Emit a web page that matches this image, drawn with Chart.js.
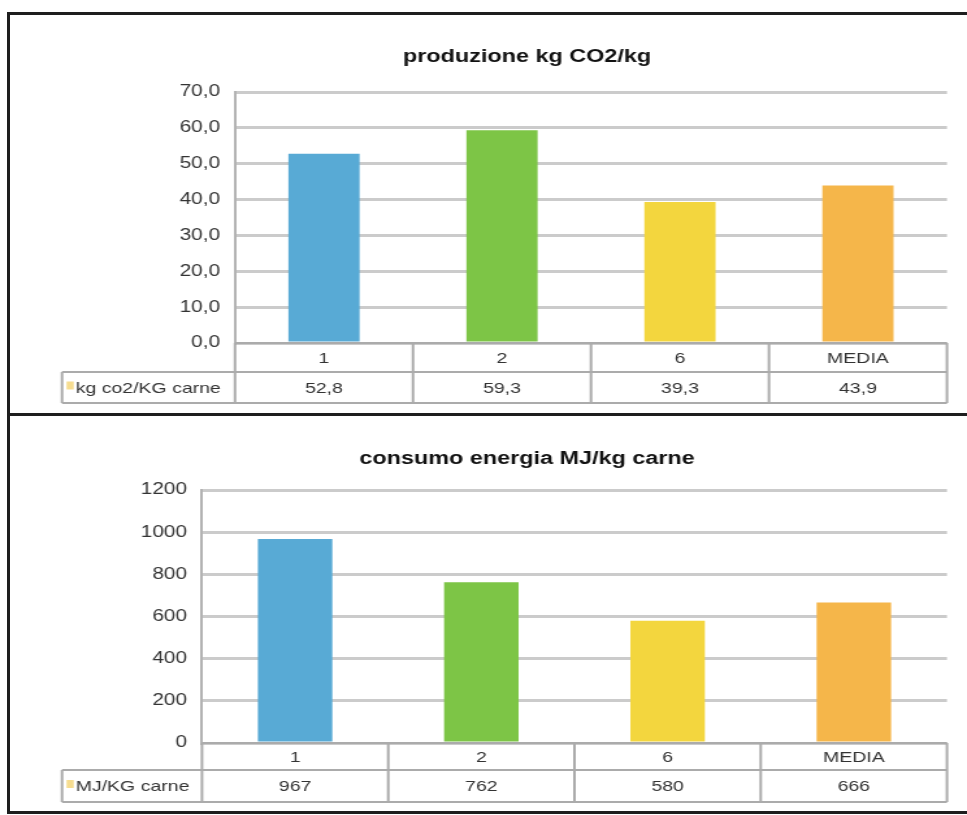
<!DOCTYPE html>
<html>
<head>
<meta charset="utf-8">
<script src="https://cdn.jsdelivr.net/npm/chart.js@4/dist/chart.umd.min.js"></script>
<style>
  html, body { margin: 0; padding: 0; background: #fff; }
  #page { position: relative; width: 967px; height: 815px; overflow: hidden; background: #fff; }
  #page canvas { position: absolute; left: 0; transform-origin: 0 0; transform: scaleX(1.2997); }
  .frame { position: absolute; left: 7px; top: 12px; width: 1000px; height: 796px; border: 3px solid #1e1e1e; pointer-events: none; }
  .divider { position: absolute; left: 7px; top: 413px; width: 980px; height: 3px; background: #1e1e1e; pointer-events: none; }
</style>
</head>
<body>
<div id="page">
  <canvas id="co2Chart" width="744" height="413" style="top:0px"></canvas>
  <canvas id="energyChart" width="744" height="396" style="top:416px"></canvas>
  <div class="frame"></div>
  <div class="divider"></div>
</div>
<script>
// Farm categories shown on both charts
const categories = ['1', '2', '6', 'MEDIA'];

// kg of CO2 produced per kg of meat
const co2Label = 'kg co2/KG carne';
const co2Values = [52.8, 59.3, 39.3, 43.9];

// energy used, MJ per kg of meat
const energyLabel = 'MJ/KG carne';
const energyValues = [967, 762, 580, 666];

const barColors = ['#58aad5', '#7dc546', '#f3d63e', '#f5b64a'];

const FONT = '"Liberation Sans", Arial, Helvetica, sans-serif';
const commaDecimal = v => Number(v).toFixed(1).replace('.', ',');
const plainInt = v => String(Math.round(v));

// left padding that keeps the title centred over the framed area
const PAD_LEFT = 82.4;

// Data table drawn under the plot, aligned with the category scale
const dataTable = {
  id: 'dataTable',
  afterDraw(chart, args, o) {
    const { ctx, chartArea: a, scales: { x } } = chart;
    const n = chart.data.labels.length;
    const w = (a.right - a.left) / n;
    const y0 = a.bottom, y1 = y0 + o.row1, y2 = y1 + o.row2;
    ctx.save();
    ctx.strokeStyle = '#ababab';
    ctx.lineWidth = 2;
    ctx.beginPath();
    ctx.moveTo(a.left, y0); ctx.lineTo(a.right, y0);
    ctx.moveTo(o.left, y1); ctx.lineTo(a.right, y1);
    ctx.moveTo(o.left, y2); ctx.lineTo(a.right, y2);
    for (let i = 0; i < n; i++) {
      const xl = x.getPixelForValue(i) - w / 2;
      ctx.moveTo(xl, y0); ctx.lineTo(xl, y2);
    }
    ctx.moveTo(a.right, y0); ctx.lineTo(a.right, y2);
    ctx.moveTo(o.left, y1); ctx.lineTo(o.left, y2);
    ctx.stroke();

    ctx.fillStyle = '#333';
    ctx.font = '15px ' + FONT;
    ctx.textBaseline = 'middle';
    ctx.textAlign = 'center';
    const ds = chart.data.datasets[0];
    chart.data.labels.forEach((lab, i) => {
      const cx = x.getPixelForValue(i);
      ctx.fillText(lab, cx, (y0 + y1) / 2 + 1);
      ctx.fillText(o.format(ds.data[i]), cx, (y1 + y2) / 2 + 1);
    });
    ctx.textAlign = 'left';
    ctx.fillText(ds.label, o.left + 10.5, (y1 + y2) / 2 + 1);
    ctx.fillStyle = '#f6dc8f';
    ctx.fillRect(o.left + 3.5, (y1 + y2) / 2 - 6, 5.5, 8);
    ctx.restore();
  }
};

function makeChart(id, cfg) {
  return new Chart(document.getElementById(id), {
    type: 'bar',
    data: {
      labels: categories,
      datasets: [{
        label: cfg.label,
        data: cfg.values,
        backgroundColor: barColors,
        borderWidth: 0,
        categoryPercentage: 1,
        barPercentage: 0.4
      }]
    },
    options: {
      responsive: false,
      devicePixelRatio: 1,
      animation: false,
      layout: { padding: { left: PAD_LEFT, top: 0, right: 15.4, bottom: cfg.padBottom } },
      plugins: {
        legend: { display: false },
        tooltip: { enabled: false },
        title: {
          display: true,
          text: cfg.title,
          color: '#111',
          font: { family: FONT, size: 18, weight: 'bold' },
          padding: { top: cfg.titleTop, bottom: cfg.titleBottom }
        },
        dataTable: { left: 47.7, row1: cfg.row1, row2: cfg.row2, format: cfg.format }
      },
      scales: {
        x: {
          grid: { display: false },
          border: { display: false },
          ticks: { display: false },
          afterFit: s => { s.height = cfg.row1 + cfg.row2; }
        },
        y: {
          min: 0,
          max: cfg.max,
          ticks: {
            stepSize: cfg.step,
            padding: 11.5,
            color: '#333',
            font: { family: FONT, size: 16 },
            callback: v => cfg.tickFormat(v)
          },
          grid: { color: '#cbcbcb', lineWidth: 3, drawTicks: false },
          border: { display: true, color: '#b3b3b3', width: 2 },
          afterFit: s => { s.width = cfg.axisLeft - PAD_LEFT; }
        }
      }
    },
    plugins: [dataTable]
  });
}

makeChart('co2Chart', {
  title: 'produzione kg CO2/kg',
  label: co2Label,
  values: co2Values,
  max: 70, step: 10,
  tickFormat: commaDecimal,
  format: commaDecimal,
  axisLeft: 180.8,
  titleTop: 46.2, titleBottom: 24.2,
  row1: 29, row2: 31, padBottom: 10
});

makeChart('energyChart', {
  title: 'consumo energia MJ/kg carne',
  label: energyLabel,
  values: energyValues,
  max: 1200, step: 200,
  tickFormat: plainInt,
  format: plainInt,
  axisLeft: 155.4,
  titleTop: 32.2, titleBottom: 20.2,
  row1: 27, row2: 32, padBottom: 10
});
</script>
</body>
</html>
